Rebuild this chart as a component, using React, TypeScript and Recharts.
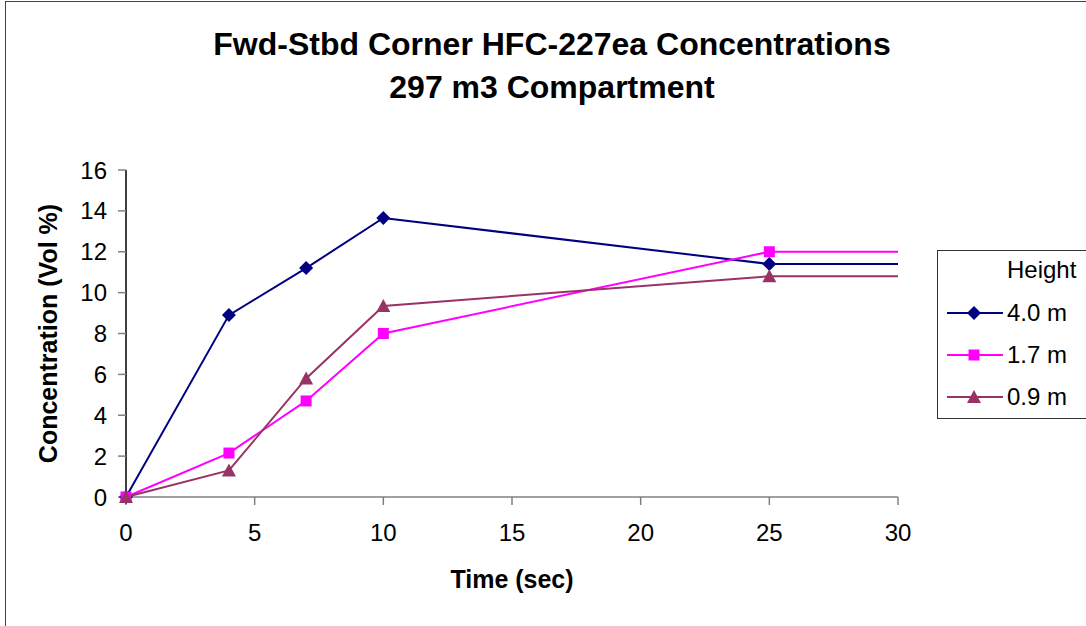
import React from "react";
import { LineChart, Line, XAxis, YAxis, Label } from "recharts";

// time in seconds, concentration in vol %
const times = [0, 4, 7, 10, 25, 30];
const h40 = [0, 8.9, 11.2, 13.65, 11.4, 11.4];
const h17 = [0, 2.15, 4.7, 8.0, 12.0, 12.0];
const h09 = [0, 1.3, 5.8, 9.35, 10.8, 10.8];
const xTicks = [0, 5, 10, 15, 20, 25, 30];
const yTicks = [0, 2, 4, 6, 8, 10, 12, 14, 16];

const seriesList = [
  { key: "h40", name: "4.0 m", color: "#000080", shape: "diamond" },
  { key: "h17", name: "1.7 m", color: "#FF00FF", shape: "square" },
  { key: "h09", name: "0.9 m", color: "#993366", shape: "triangle" },
];

const rows = times.map((t, i) => ({ t, h40: h40[i], h17: h17[i], h09: h09[i] }));

const FONT = "'Liberation Sans', Arial, sans-serif";

function Marker({ shape, cx, cy, color }: any) {
  if (shape === "diamond") {
    return (
      <polygon
        points={`${cx},${cy - 7} ${cx + 7},${cy} ${cx},${cy + 7} ${cx - 7},${cy}`}
        fill={color}
      />
    );
  }
  if (shape === "square") {
    return <rect x={cx - 5.5} y={cy - 5.5} width={11} height={11} fill={color} />;
  }
  return (
    <polygon
      points={`${cx},${cy - 7} ${cx + 7},${cy + 6} ${cx - 7},${cy + 6}`}
      fill={color}
    />
  );
}

// the line runs to the right edge, no marker on the last point
const makeDot = (shape: string, color: string) => (props: any) => {
  const { cx, cy, index } = props;
  if (index === times.length - 1) return <g key={`d-${index}`} />;
  return (
    <g key={`d-${index}`}>
      <Marker shape={shape} cx={cx} cy={cy} color={color} />
    </g>
  );
};

function LegendBox() {
  return (
    <div
      style={{
        position: "absolute",
        left: 937,
        top: 250,
        width: 160,
        height: 167,
        border: "1px solid #333",
        background: "#fff",
        fontFamily: FONT,
        fontSize: 24,
        color: "#000",
      }}
    >
      <div style={{ position: "absolute", left: 69, top: 5 }}>Height</div>
      {seriesList.map((s, i) => (
        <div
          key={s.key}
          style={{
            position: "absolute",
            left: 9,
            top: 49 + i * 42,
            height: 26,
            display: "flex",
            alignItems: "center",
          }}
        >
          <svg width={56} height={20}>
            <line x1={0} y1={10} x2={56} y2={10} stroke={s.color} strokeWidth={2} />
            <Marker shape={s.shape} cx={27} cy={10} color={s.color} />
          </svg>
          <span style={{ marginLeft: 4 }}>{s.name}</span>
        </div>
      ))}
    </div>
  );
}

export default function App() {
  return (
    <div
      style={{
        position: "absolute",
        left: 0,
        top: 0,
        width: 1086,
        height: 626,
        background: "#fff",
        overflow: "hidden",
      }}
    >
      <div
        style={{
          position: "absolute",
          left: 5,
          top: 1,
          width: 1100,
          height: 640,
          borderTop: "1px solid #444",
          borderLeft: "1px solid #444",
        }}
      />
      <div
        style={{
          position: "absolute",
          left: 0,
          top: 23,
          width: 1104,
          textAlign: "center",
          fontFamily: FONT,
          fontWeight: "bold",
          fontSize: 32,
          lineHeight: "43px",
          color: "#000",
        }}
      >
        Fwd-Stbd Corner HFC-227ea Concentrations
        <br />
        297 m3 Compartment
      </div>
      <LineChart
        width={1086}
        height={626}
        data={rows}
        margin={{ top: 170, right: 188, bottom: 29, left: 26 }}
        style={{ position: "absolute", left: 0, top: 0 }}
      >
        <XAxis
          dataKey="t"
          type="number"
          domain={[0, 30]}
          ticks={xTicks}
          height={100}
          tickSize={8}
          tickMargin={19}
          axisLine={{ stroke: "#808080", strokeWidth: 1.5 }}
          tickLine={{ stroke: "#808080", strokeWidth: 1.5 }}
          tick={{ fill: "#000", fontSize: 24, fontFamily: FONT }}
        >
          <Label
            value="Time (sec)"
            position="insideBottom"
            offset={9}
            style={{ fontSize: 25, fontWeight: "bold", fontFamily: FONT, fill: "#000" }}
          />
        </XAxis>
        <YAxis
          type="number"
          domain={[0, 16]}
          ticks={yTicks}
          width={100}
          tickSize={8}
          tickMargin={11}
          axisLine={{ stroke: "#000", strokeWidth: 1.5 }}
          tickLine={{ stroke: "#808080", strokeWidth: 1.5 }}
          tick={{ fill: "#000", fontSize: 24, fontFamily: FONT }}
        >
          <Label
            value="Concentration (Vol %)"
            angle={-90}
            position="insideLeft"
            offset={22}
            style={{
              textAnchor: "middle",
              fontSize: 25,
              fontWeight: "bold",
              fontFamily: FONT,
              fill: "#000",
            }}
          />
        </YAxis>
        {seriesList.map((s) => (
          <Line
            key={s.key}
            dataKey={s.key}
            name={s.name}
            type="linear"
            stroke={s.color}
            strokeWidth={2}
            dot={makeDot(s.shape, s.color)}
            activeDot={false}
            isAnimationActive={false}
          />
        ))}
      </LineChart>
      <LegendBox />
    </div>
  );
}
